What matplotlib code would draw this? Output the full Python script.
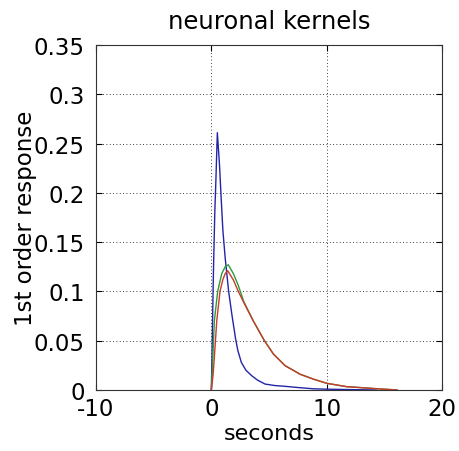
import numpy as np
import matplotlib
matplotlib.use("Agg")
import matplotlib.pyplot as plt

# kernel samples (seconds, response)
blue_t = [0, 0.05, 0.12, 0.2, 0.3, 0.4, 0.52, 0.7, 0.85, 1.0, 1.2, 1.5, 1.8, 2.1, 2.3,
          2.6, 3.0, 3.5, 4.0, 4.66, 5.5, 6.4, 7.5, 8.85, 10, 12, 14.3]
blue_y = [0, 0.03, 0.08, 0.13, 0.18, 0.215, 0.261, 0.23, 0.195, 0.162, 0.134, 0.100, 0.075,
          0.052, 0.040, 0.028, 0.020, 0.0145, 0.010, 0.006, 0.0045, 0.0037, 0.0025, 0.0012,
          0.0008, 0.0004, 0.0]

green_t = [0, 0.1, 0.26, 0.55, 0.9, 1.2, 1.47, 1.91, 2.34, 2.8, 3.64, 4.6, 5.38, 6.39,
           7.69, 8.85, 10, 11.7, 14.3, 16.1]
green_y = [0, 0.025, 0.07, 0.10, 0.118, 0.125, 0.127, 0.118, 0.106, 0.090, 0.070, 0.050,
           0.0365, 0.0247, 0.016, 0.011, 0.0068, 0.0034, 0.0013, 0.0]

red_t = [0, 0.05, 0.15, 0.3, 0.47, 0.75, 1.0, 1.2, 1.42, 1.91, 2.34, 2.8, 3.64, 4.6, 5.38,
         6.39, 7.69, 8.85, 10, 11.7, 14.3, 16.1]
red_y = [0, 0.005, 0.015, 0.04, 0.07, 0.10, 0.112, 0.118, 0.121, 0.1116, 0.100, 0.089,
         0.070, 0.050, 0.0365, 0.0247, 0.016, 0.011, 0.0068, 0.0034, 0.0013, 0.0]

xticks = [-10, 0, 10, 20]
yticks = [0, 0.05, 0.1, 0.15, 0.2, 0.25, 0.3, 0.35]
ytick_labels = ["0", "0.05", "0.1", "0.15", "0.2", "0.25", "0.3", "0.35"]

plt.rcParams['font.family'] = ['DejaVu Sans']

fig = plt.figure(figsize=(4.6, 4.52), dpi=100)
ax = fig.add_axes([0.2087, 0.1350, 0.7522, 0.7633])

ax.plot(blue_t, blue_y, color='#2424a8', lw=1.0)
ax.plot(green_t, green_y, color='#2a9a3a', lw=1.0)
ax.plot(red_t, red_y, color='#cc3a2a', lw=1.0)

ax.set_xlim(-10, 20)
ax.set_ylim(0, 0.35)
ax.set_xticks(xticks)
ax.set_xticklabels([str(v) for v in xticks])
ax.set_yticks(yticks)
ax.set_yticklabels(ytick_labels)

ax.grid(True, color='black', linestyle=(0, (1, 3)), linewidth=0.6)
ax.tick_params(direction='in', length=4, width=0.8, labelsize=16.5,
               top=True, right=True)
ax.tick_params(axis='y', pad=8)
ax.tick_params(axis='x', pad=5)
for s in ax.spines.values():
    s.set_linewidth(0.8)
    s.set_color('#333333')

ax.set_title("neuronal kernels", fontsize=17.5, pad=12)
ax.set_xlabel("seconds", fontsize=16, labelpad=2)
ax.set_ylabel("1st order response", fontsize=16.5, labelpad=-2)

fig.savefig("out.png", dpi=100)
